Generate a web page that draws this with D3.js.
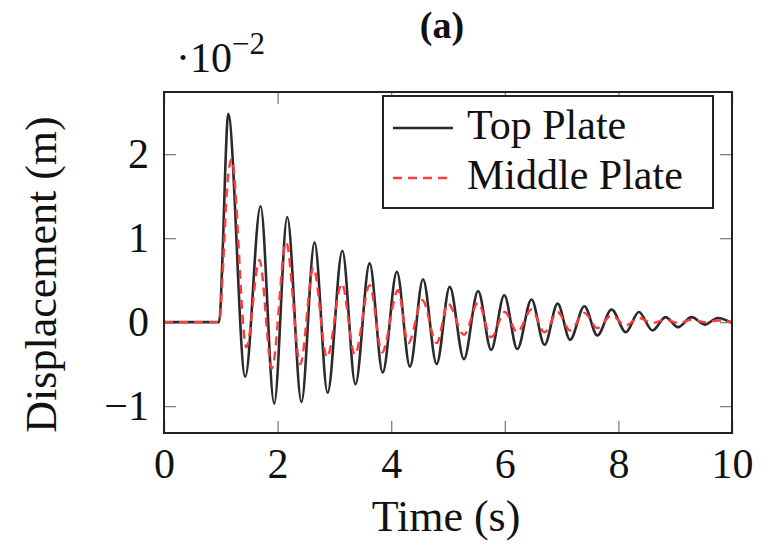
<!DOCTYPE html>
<meta charset="utf-8">
<style>
  body { margin: 0; background: #fff; }
  text { font-family: "Liberation Serif", "DejaVu Serif", serif; fill: #111; }
</style>
<svg width="773" height="549"></svg>
<script src="https://cdn.jsdelivr.net/npm/d3@7"></script>
<script>
  // displacement values in units of 1e-2 m (extrema)
  var topTime = [0, 0.97, 1.04, 1.08, 1.13, 1.43, 1.70, 1.94, 2.17, 2.42, 2.65, 2.88, 3.14, 3.37, 3.62, 3.85, 4.10, 4.33, 4.56, 4.80, 5.03, 5.28, 5.53, 5.76, 5.99, 6.22, 6.47, 6.70, 6.93, 7.15, 7.40, 7.63, 7.88, 8.13, 8.36, 8.60, 8.83, 9.05, 9.29, 9.52, 9.75, 10];
  var topDisp = [0, 0, 0.98, 1.85, 2.48, -0.65, 1.38, -0.97, 1.25, -0.95, 0.95, -0.84, 0.85, -0.74, 0.70, -0.60, 0.60, -0.53, 0.51, -0.50, 0.42, -0.44, 0.37, -0.33, 0.32, -0.32, 0.27, -0.27, 0.22, -0.21, 0.19, -0.16, 0.15, -0.12, 0.12, -0.10, 0.06, -0.06, 0.06, -0.03, 0.05, -0.01];
  var midTime = [0, 0.97, 1.05, 1.10, 1.19, 1.45, 1.68, 1.90, 2.15, 2.40, 2.63, 2.87, 3.13, 3.36, 3.62, 3.84, 4.12, 4.30, 4.55, 4.80, 5.00, 5.28, 5.53, 5.76, 6.00, 6.22, 6.47, 6.70, 6.93, 7.15, 7.40, 7.63, 7.88, 8.13, 8.36, 8.60, 8.83, 9.05, 9.30, 9.52, 9.75, 10];
  var midDisp = [0, 0, 0.80, 1.50, 1.94, -0.30, 0.74, -0.55, 0.95, -0.50, 0.65, -0.42, 0.46, -0.39, 0.44, -0.36, 0.38, -0.25, 0.26, -0.25, 0.22, -0.15, 0.23, -0.18, 0.12, -0.12, 0.15, -0.12, 0.12, -0.10, 0.11, -0.07, 0.08, -0.04, 0.05, -0.01, 0.03, -0.01, 0.03, 0.00, 0.02, 0];
  var xTicks = [0, 2, 4, 6, 8, 10];
  var yTicks = [-1, 0, 1, 2];
  var seriesNames = ["Top Plate", "Middle Plate"];

  var svg = d3.select("svg"),
    pLeft = 164, pRight = 732, pTop = 92, pBottom = 433;

  var x = d3.scaleLinear().domain([0, 10]).range([pLeft, pRight]);
  var y = d3.scaleLinear().domain([-1.32, 2.74]).range([pBottom, pTop]);

  var series = [
    { name: seriesNames[0], pts: topTime.map(function(t, i) { return [t, topDisp[i]]; }), color: "#2a2a2a", dash: null, w: 2.6 },
    { name: seriesNames[1], pts: midTime.map(function(t, i) { return [t, midDisp[i]]; }), color: "#ff3b3b", dash: "9,6", w: 2.4 }
  ];

  svg.append("clipPath").attr("id", "clip")
    .append("rect").attr("x", pLeft).attr("y", pTop).attr("width", pRight - pLeft).attr("height", pBottom - pTop);

  // axes, ticks pointing inward like pgfplots
  function styleAxis(g) {
    g.select(".domain").remove();
    g.selectAll(".tick line").attr("stroke", "#808080").attr("stroke-width", 1.3);
    g.selectAll(".tick text").attr("font-size", 42).attr("font-family", "Liberation Serif").attr("fill", "#111");
  }
  svg.append("g").attr("transform", "translate(0," + pBottom + ")")
    .call(d3.axisBottom(x).tickValues(xTicks).tickSizeInner(-12).tickSizeOuter(0).tickPadding(15).tickFormat(d3.format("d")))
    .call(styleAxis);
  svg.append("g").attr("transform", "translate(0," + pTop + ")")
    .call(d3.axisTop(x).tickValues(xTicks).tickSizeInner(-12).tickSizeOuter(0).tickFormat(""))
    .call(styleAxis);
  svg.append("g").attr("transform", "translate(" + pLeft + ",0)")
    .call(d3.axisLeft(y).tickValues(yTicks).tickSizeInner(-12).tickSizeOuter(0).tickPadding(15).tickFormat(d3.format("d")))
    .call(styleAxis);
  svg.append("g").attr("transform", "translate(" + pRight + ",0)")
    .call(d3.axisRight(y).tickValues(yTicks).tickSizeInner(-12).tickSizeOuter(0).tickFormat(""))
    .call(styleAxis);

  var line = d3.line()
    .x(function(d) { return x(d[0]); })
    .y(function(d) { return y(d[1]); })
    .curve(d3.curveMonotoneX);

  svg.append("g").attr("clip-path", "url(#clip)")
    .selectAll("path").data(series).enter().append("path")
    .attr("d", function(d) { return line(d.pts); })
    .attr("fill", "none")
    .attr("stroke", function(d) { return d.color; })
    .attr("stroke-width", function(d) { return d.w; })
    .attr("stroke-dasharray", function(d) { return d.dash; });

  // frame
  svg.append("rect").attr("x", pLeft).attr("y", pTop).attr("width", pRight - pLeft).attr("height", pBottom - pTop)
    .attr("fill", "none").attr("stroke", "#222").attr("stroke-width", 2);

  // legend
  var lg = svg.append("g").attr("transform", "translate(383,96)");
  lg.append("rect").attr("width", 330).attr("height", 112)
    .attr("fill", "#fff").attr("stroke", "#222").attr("stroke-width", 2);
  var item = lg.selectAll("g.item").data(series).enter().append("g")
    .attr("transform", function(d, i) { return "translate(0," + (32 + i * 50) + ")"; });
  item.append("line").attr("x1", 10).attr("x2", 70)
    .attr("stroke", function(d) { return d.color; })
    .attr("stroke-width", function(d) { return d.w; })
    .attr("stroke-dasharray", function(d) { return d.dash; });
  item.append("text").attr("x", 84).attr("y", 11).attr("font-size", 42)
    .text(function(d) { return d.name; });

  // labels
  svg.append("text").attr("x", 442).attr("y", 38).attr("text-anchor", "middle")
    .attr("font-size", 38).attr("font-weight", "bold").text("(a)");
  var sc = svg.append("text").attr("x", 176).attr("y", 72).attr("font-size", 42);
  sc.append("tspan").text("\u00b710");
  sc.append("tspan").attr("font-size", 31).attr("dy", -18).text("\u22122");
  svg.append("text").attr("x", (pLeft + pRight) / 2 - 2).attr("y", 531).attr("text-anchor", "middle")
    .attr("font-size", 44).text("Time (s)");
  svg.append("text").attr("transform", "translate(56," + ((pTop + pBottom) / 2 + 12) + ") rotate(-90)")
    .attr("text-anchor", "middle").attr("font-size", 44).text("Displacement (m)");
</script>
